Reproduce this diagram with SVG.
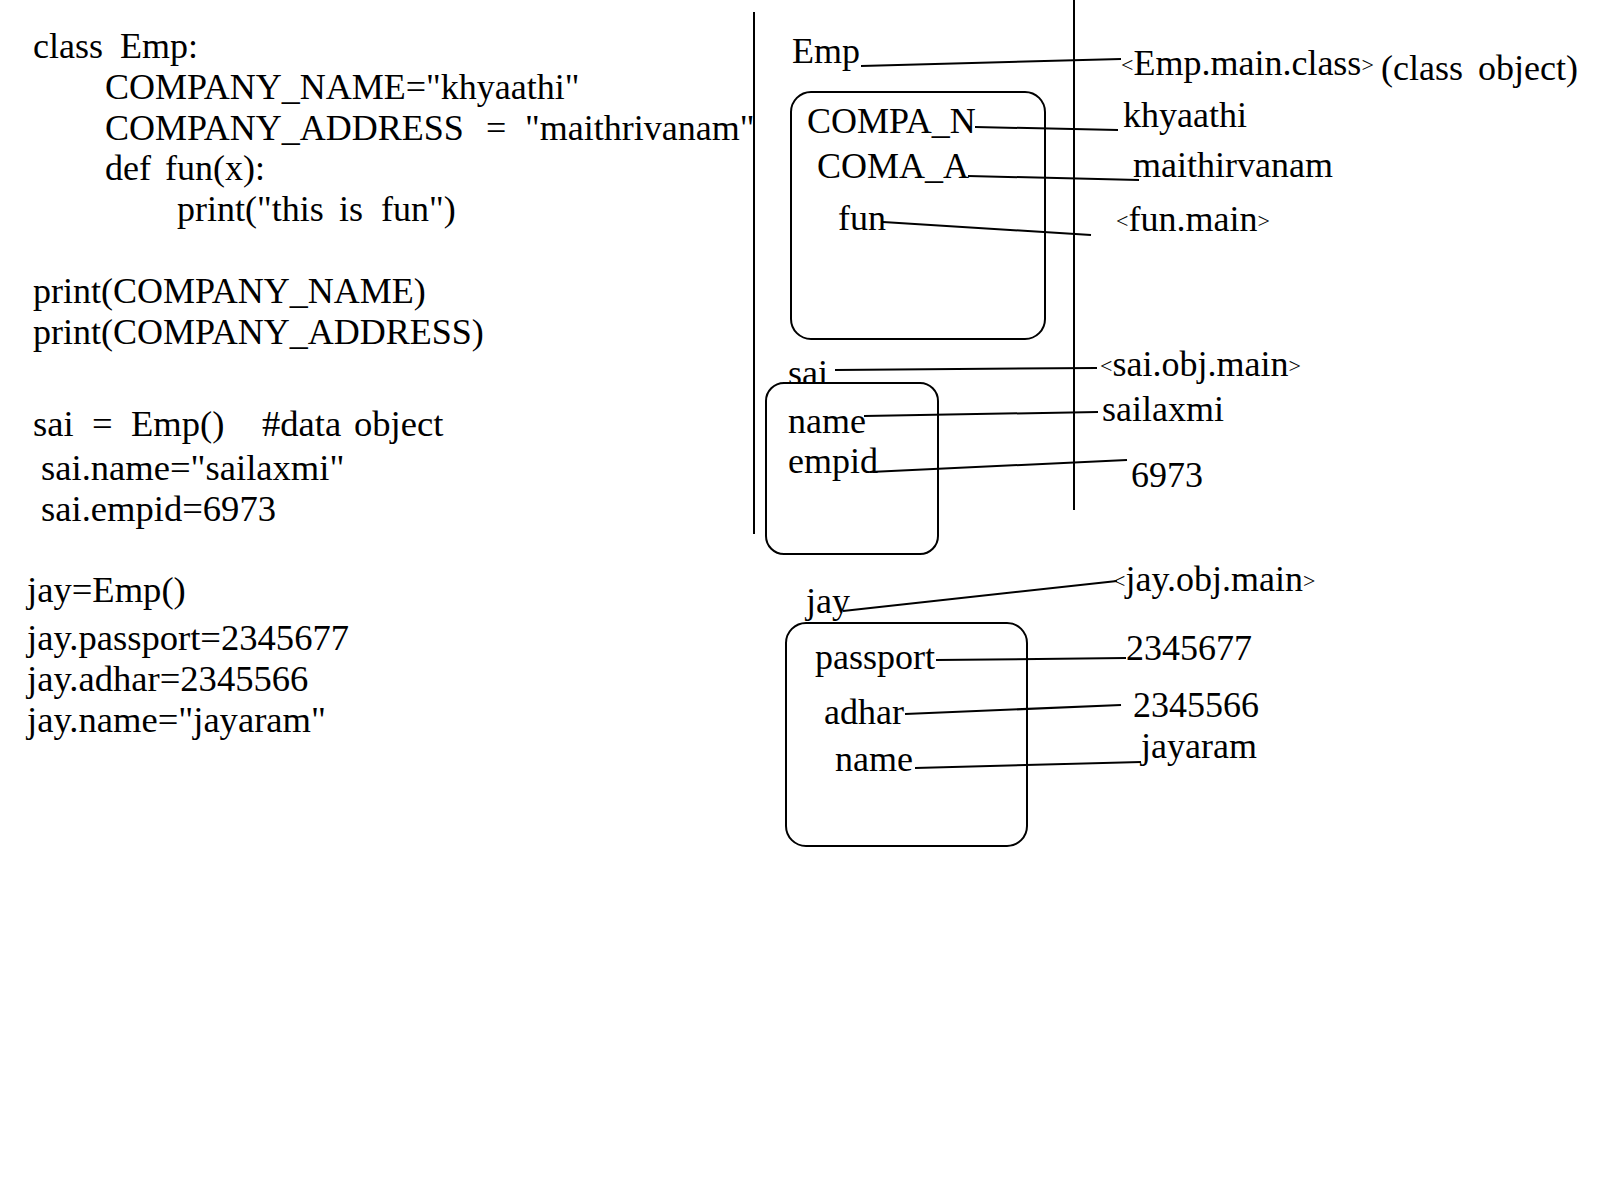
<svg xmlns="http://www.w3.org/2000/svg" width="1600" height="1200" viewBox="0 0 1600 1200">
<style>
text{font-family:"Liberation Serif","Times New Roman",serif;font-size:36px;fill:#000}
.lo{font-size:36.6px}
.ln{stroke:#000;stroke-width:2;fill:none}
.box{stroke:#000;stroke-width:2;fill:#fff}
.br{font-size:22px}
</style>
<rect width="1600" height="1200" fill="#fff"/>
<g id="code">
<text x="33" y="58">class<tspan x="120">Emp:</tspan></text>
<text x="105" y="99">COMPANY_NAME="khyaathi"</text>
<text x="105" y="140">COMPANY_ADDRESS<tspan x="486">=</tspan><tspan x="525">"maithrivanam"</tspan></text>
<text x="105" y="180">def<tspan x="165">fun(x):</tspan></text>
<text x="177" y="221">print("this<tspan x="339">is</tspan><tspan x="381">fun")</tspan></text>
<text x="33" y="303">print(COMPANY_NAME)</text>
<text x="33" y="344">print(COMPANY_ADDRESS)</text>
<text class="lo" x="33" y="436">sai<tspan x="92">=</tspan><tspan x="131">Emp()</tspan><tspan x="262">#data</tspan><tspan x="354">object</tspan></text>
<text class="lo" x="41" y="480">sai.name="sailaxmi"</text>
<text class="lo" x="41" y="521">sai.empid=6973</text>
<text class="lo" x="27" y="602">jay=Emp()</text>
<text class="lo" x="27" y="650">jay.passport=2345677</text>
<text class="lo" x="27" y="691">jay.adhar=2345566</text>
<text class="lo" x="27" y="732">jay.name="jayaram"</text>
</g>
<g id="dividers">
<line class="ln" x1="754" y1="12" x2="754" y2="534"/>
<line class="ln" x1="1074" y1="0" x2="1074" y2="510"/>
</g>
<g id="class-object">
<text x="792" y="63">Emp</text>
<rect class="box" x="791" y="92" width="254" height="247" rx="20"/>
<text x="807" y="133">COMPA_N</text>
<text x="817" y="178">COMA_A</text>
<text x="838" y="230">fun</text>
</g>
<g id="class-values">
<text x="1121" y="75"><tspan class="br" dy="-3">&lt;</tspan><tspan dy="3">Emp.main.class</tspan><tspan class="br" dy="-3">&gt;</tspan></text>
<text x="1381" y="80">(class<tspan x="1478">object)</tspan></text>
<text x="1123" y="127">khyaathi</text>
<text x="1133" y="177">maithirvanam</text>
<text x="1116" y="231"><tspan class="br" dy="-3">&lt;</tspan><tspan dy="3">fun.main</tspan><tspan class="br" dy="-3">&gt;</tspan></text>
</g>
<g id="sai-object">
<text x="788" y="385">sai</text>
<rect class="box" x="766" y="383" width="172" height="171" rx="18"/>
<text x="788" y="433">name</text>
<text x="788" y="473">empid</text>
</g>
<g id="sai-values">
<text x="1100" y="376"><tspan class="br" dy="-3">&lt;</tspan><tspan dy="3">sai.obj.main</tspan><tspan class="br" dy="-3">&gt;</tspan></text>
<text x="1102" y="421">sailaxmi</text>
<text x="1131" y="487">6973</text>
</g>
<g id="jay-object">
<text x="806" y="613">jay</text>
<rect class="box" x="786" y="623" width="241" height="223" rx="20"/>
<text x="815" y="669">passport</text>
<text x="824" y="724">adhar</text>
<text x="835" y="771">name</text>
</g>
<g id="jay-values">
<text x="1113" y="591"><tspan class="br" dy="-3">&lt;</tspan><tspan dy="3">jay.obj.main</tspan><tspan class="br" dy="-3">&gt;</tspan></text>
<text x="1126" y="660">2345677</text>
<text x="1133" y="717">2345566</text>
<text x="1141" y="758">jayaram</text>
</g>
<g id="connectors">
<line class="ln" x1="861" y1="66" x2="1121" y2="59"/>
<line class="ln" x1="975" y1="127" x2="1118" y2="130"/>
<line class="ln" x1="968" y1="176" x2="1139" y2="180"/>
<line class="ln" x1="883" y1="222" x2="1091" y2="235"/>
<line class="ln" x1="835" y1="370" x2="1097" y2="368"/>
<line class="ln" x1="864" y1="416" x2="1098" y2="412"/>
<line class="ln" x1="870" y1="472" x2="1127" y2="460"/>
<line class="ln" x1="843" y1="611" x2="1117" y2="581"/>
<line class="ln" x1="936" y1="660" x2="1126" y2="658"/>
<line class="ln" x1="905" y1="714" x2="1121" y2="705"/>
<line class="ln" x1="915" y1="768" x2="1141" y2="762"/>
</g>
</svg>
